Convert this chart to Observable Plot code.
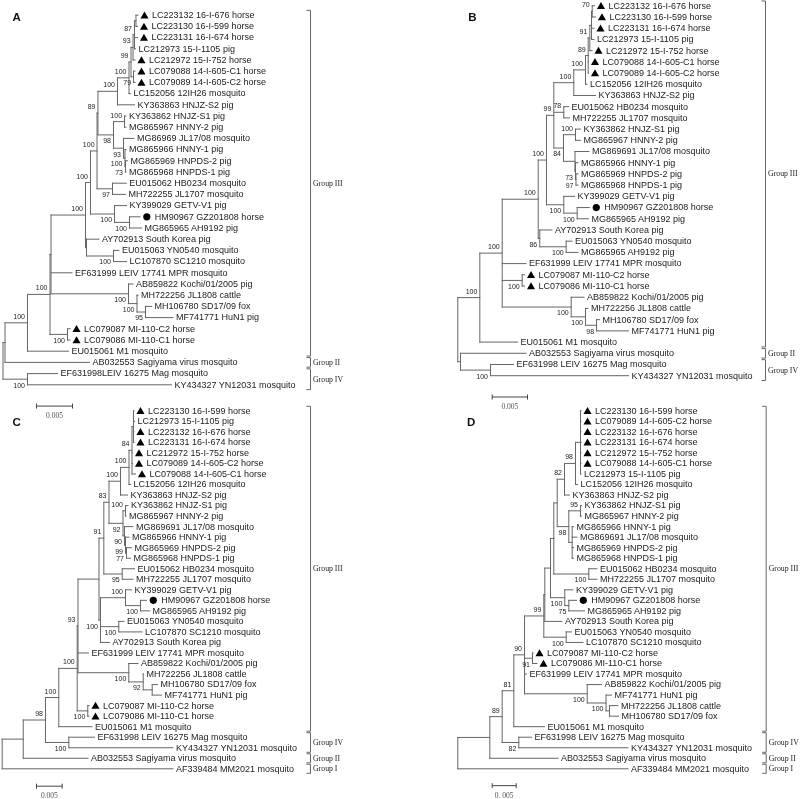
<!DOCTYPE html>
<html><head><meta charset="utf-8">
<script src="https://cdn.jsdelivr.net/npm/d3@7"></script>
<script src="https://cdn.jsdelivr.net/npm/@observablehq/plot@0.6"></script>
<style>
html,body{margin:0;padding:0;background:#fff;}
#fig{position:relative;width:800px;height:799px;overflow:hidden;background:#fff;filter:grayscale(1);}
</style></head><body><div id="fig"></div>
<script>
// ---------- DATA ----------
// Tree topology: leaf numbers refer to the leaf arrays; after ":" = distance from root
// (units of 0.001 substitutions/site); digits after ")" = bootstrap support.
const leavesA = ["LC223132 16-I-676 horse","LC223130 16-I-599 horse","LC223131 16-I-674 horse","LC212973 15-I-1105 pig","LC212972 15-I-752 horse","LC079088 14-I-605-C1 horse","LC079089 14-I-605-C2 horse","LC152056 12IH26 mosquito","KY363863 HNJZ-S2 pig","KY363862 HNJZ-S1 pig","MG865967 HNNY-2 pig","MG86969 JL17/08 mosquito","MG865966 HNNY-1 pig","MG865969 HNPDS-2 pig","MG865968 HNPDS-1 pig","EU015062 HB0234 mosquito","MH722255 JL1707 mosquito","KY399029 GETV-V1 pig","HM90967 GZ201808 horse","MG865965 AH9192 pig","AY702913 South Korea pig","EU015063 YN0540 mosquito","LC107870 SC1210 mosquito","EF631999 LEIV 17741 MPR mosquito","AB859822 Kochi/01/2005 pig","MH722256 JL1808 cattle","MH106780 SD17/09 fox","MF741771 HuN1 pig","LC079087 MI-110-C2 horse","LC079086 MI-110-C1 horse","EU015061 M1 mosquito","AB032553 Sagiyama virus mosquito","EF631998LEIV 16275 Mag mosquito","KY434327 YN12031 mosquito"];
const leavesB = ["LC223132 16-I-676 horse","LC223130 16-I-599 horse","LC223131 16-I-674 horse","LC212973 15-I-1105 pig","LC212972 15-I-752 horse","LC079088 14-I-605-C1 horse","LC079089 14-I-605-C2 horse","LC152056 12IH26 mosquito","KY363863 HNJZ-S2 pig","EU015062 HB0234 mosquito","MH722255 JL1707 mosquito","KY363862 HNJZ-S1 pig","MG865967 HNNY-2 pig","MG869691 JL17/08 mosquito","MG865966 HNNY-1 pig","MG865969 HNPDS-2 pig","MG865968 HNPDS-1 pig","KY399029 GETV-V1 pig","HM90967 GZ201808 horse","MG865965 AH9192 pig","AY702913 South Korea pig","EU015063 YN0540 mosquito","MG865965 AH9192 pig","EF631999 LEIV 17741 MPR mosquito","LC079087 MI-110-C2 horse","LC079086 MI-110-C1 horse","AB859822 Kochi/01/2005 pig","MH722256 JL1808 cattle","MH106780 SD17/09 fox","MF741771 HuN1 pig","EU015061 M1 mosquito","AB032553 Sagiyama virus mosquito","EF631998 LEIV 16275 Mag mosquito","KY434327 YN12031 mosquito"];
const leavesC = ["LC223130 16-I-599 horse","LC212973 15-I-1105 pig","LC223132 16-I-676 horse","LC223131 16-I-674 horse","LC212972 15-I-752 horse","LC079089 14-I-605-C2 horse","LC079088 14-I-605-C1 horse","LC152056 12IH26 mosquito","KY363863 HNJZ-S2 pig","KY363862 HNJZ-S1 pig","MG865967 HNNY-2 pig","MG869691 JL17/08 mosquito","MG865966 HNNY-1 pig","MG865969 HNPDS-2 pig","MG865968 HNPDS-1 pig","EU015062 HB0234 mosquito","MH722255 JL1707 mosquito","KY399029 GETV-V1 pig","HM90967 GZ201808 horse","MG865965 AH9192 pig","EU015063 YN0540 mosquito","LC107870 SC1210 mosquito","AY702913 South Korea pig","EF631999 LEIV 17741 MPR mosquito","AB859822 Kochi/01/2005 pig","MH722256 JL1808 cattle","MH106780 SD17/09 fox","MF741771 HuN1 pig","LC079087 MI-110-C2 horse","LC079086 MI-110-C1 horse","EU015061 M1 mosquito","EF631998 LEIV 16275 Mag mosquito","KY434327 YN12031 mosquito","AB032553 Sagiyama virus mosquito","AF339484 MM2021 mosquito"];
const leavesD = ["LC223130 16-I-599 horse","LC079089 14-I-605-C2 horse","LC223132 16-I-676 horse","LC223131 16-I-674 horse","LC212972 15-I-752 horse","LC079088 14-I-605-C1 horse","LC212973 15-I-1105 pig","LC152056 12IH26 mosquito","KY363863 HNJZ-S2 pig","KY363862 HNJZ-S1 pig","MG865967 HNNY-2 pig","MG865966 HNNY-1 pig","MG869691 JL17/08 mosquito","MG865969 HNPDS-2 pig","MG865968 HNPDS-1 pig","EU015062 HB0234 mosquito","MH722255 JL1707 mosquito","KY399029 GETV-V1 pig","HM90967 GZ201808 horse","MG865965 AH9192 pig","AY702913 South Korea pig","EU015063 YN0540 mosquito","LC107870 SC1210 mosquito","LC079087 MI-110-C2 horse","LC079086 MI-110-C1 horse","EF631999 LEIV 17741 MPR mosquito","AB859822 Kochi/01/2005 pig","MF741771 HuN1 pig","MH722256 JL1808 cattle","MH106780 SD17/09 fox","EU015061 M1 mosquito","EF631998 LEIV 16275 Mag mosquito","KY434327 YN12031 mosquito","AB032553 Sagiyama virus mosquito","AF339484 MM2021 mosquito"];

const treeA = `
(
 (
  (
   (
    (
     (
      (
       (
        (
         (
          (
           (
            (
             (
              (1:18.75,2:18.68):18.47,
              3:18.68,4:18.40
             )87:18.26,
             5:18.33
            )93:18.06,
            (6:18.33,7:18.33)79:18.13
           )99:17.78,
           8:17.71
          )100:17.50,
          9:18.26
         )100:15.90,
         (
          (10:17.08,11:17.08)100:16.88,
          (12:18.19,(13:17.08,(14:17.29,15:17.08)73:17.01)100:16.94)93:16.74
         )98:15.35
        )89:13.19,
        (16:17.13,17:17.01)97:15.21
       )100:13.06,
       (18:17.15,(19:19.03,20:19.24)100:17.57)100:15.49
      )100:12.15,
      (21:13.33,(22:16.11,23:17.15)100:15.35):11.60
     )100:11.46,
     24:9.58,
     (25:18.06,(26:18.75,(27:20.63,28:23.61)95:19.79)100:18.61)100:17.43
    ):6.67,
    (29:9.31,30:9.31)100:8.96
   )100:6.53,
   31:9.10
  )100:3.40,
  32:12.01
 ):0.28,
 (33:7.57,34:23.40)100:3.40
):0`;

const treeB = `
(
 (
  (
   (
    (
     (
      (
       (
        (
         (
          ((1:19.36,2:19.50)70:19.04,3:19.29,4:19.29):18.94,
          5:19.01
         )91:18.70,
         6:18.51,7:18.51
        )89:18.47,
        8:18.30
       )100:18.09,
       9:19.50
      )100:16.43,
      (10:15.68,11:15.82)78:15.01,
      ((12:17.38,13:17.38)100:16.67,(14:18.58,(15:17.03,(16:17.03,17:17.03)97:16.74)73:16.67):16.60)84:14.97
     )99:13.60,
     (18:16.53,(19:18.65,20:18.51)100:16.91)100:15.01
    )100:12.56,
    (21:13.34,(22:16.18,23:17.03)100:15.35)86:11.61
   )100:11.39,
   24:9.66,
   (25:9.45,26:9.45)100:9.12,
   (27:17.88,(28:18.44,(29:20.07,30:24.18)98:19.65)100:18.09)100:16.06
  )100:6.29,
  31:8.46
 )100:3.12,
 (32:9.66,(33:7.89,34:24.18)100:4.63):0.38
):0`;

const treeC = `
(
 (
  (
   (
    (
     (
      (
       (
        (
         (
          (
           (
            (1:25.64,2:25.74,3:25.64,4:25.64):25.54,
            5:25.35,6:25.35,7:25.93
           )84:25.25,
           8:24.96
          )100:24.67,
          9:24.38
         )100:23.02,
         (
          (10:24.47,11:24.09)100:23.99,
          (12:25.45,(13:24.67,(14:25.16,15:24.96)77:24.18)99:23.99)90:23.79
         )92:23.50
        )83:20.78,
        (16:25.74,17:25.45)95:23.35
       )91:19.77,
       (
        (18:25.16,(19:28.07,20:28.66)100:26.91)100:23.99,
        (21:23.70,22:27.20)100:22.68,
        23:20.88
       )100:19.12
      ):18.83,
      24:16.79,
      (25:26.42,(26:27.49,(27:30.21,28:30.99):29.18)92:27.43)100:24.63
     )93:14.75,
     (29:16.89,30:16.89)100:16.65
    )100:14.59,
    31:17.47
   )100:11.01,
   (32:17.96,33:33.23)100:12.96
  )98:8.42,
  34:16.69
 ):4.09,
 35:33.23
):0`;

const treeD = `
(
 (
  (
   (
    (
     (
      (
       (
        (
         (
          (
           (
            (1:25.67,2:25.67,3:25.67,4:25.67,5:25.67,6:25.67,7:25.67):25.56,
            8:24.94
           )98:24.52,
           9:23.27
          )82:22.23,
          ((10:25.77,11:25.77)95:25.56,(12:24.10,13:24.83,14:24.10,15:24.10):23.83)98:23.13
         ):20.71,
         (16:29.00,17:29.00)100:27.29
        ):20.00,
        (18:24.00,(19:24.73,20:26.40)75:23.13)100:22.29
       ):19.31,
       21:21.71
      ):18.13,
      (22:23.69,23:26.08)100:22.58
     )99:17.92,
     (24:15.67,25:16.50)91:15.56,
     26:14.31,
     (27:29.94,(28:32.02,(29:33.38,30:33.48):31.60)100:30.88)100:26.96
    )90:13.90,
    31:18.06
   )81:11.67,
   (32:15.35,33:35.46)82:12.71
  )89:9.25,
  34:20.88
 ):6.67,
 35:35.46
):0`;

// groups: [label, first leaf, last leaf]
const groupsAB = [["Group III",1,31],["Group II",32,32],["Group IV",33,34]];
const groupsCD = [["Group III",1,31],["Group IV",32,33],["Group II",34,34],["Group I",35,35]];
const circleIds = ["HM90967"];   // filled circle marker; other horse strains get a triangle
const scaleBarLength = 5;        // 0.005 substitutions/site

// ---------- LAYOUT ----------
const panels = [
  {letter:"A", tree:treeA, leaves:leavesA, groups:groupsAB, scaleLabel:"0.005",
   left:0, top:0, height:420, rootPx:2.5, ppu:7.2, y1:14.7, yn:384.3,
   bracketPx:310, barPx:36, barRow:1.9, barLabelRow:2.75, letterX:12, letterY:17.2},
  {letter:"B", tree:treeB, leaves:leavesB, groups:groupsAB, scaleLabel:"0.005",
   left:400, top:0, height:415, rootPx:57.3, ppu:7.06, y1:5.3, yn:375.2,
   bracketPx:365, barPx:91.7, barRow:1.9, barLabelRow:2.8, letterX:67.7, letterY:17.2},
  {letter:"C", tree:treeC, leaves:leavesC, groups:groupsCD, scaleLabel:"0.005",
   left:0, top:400, height:399, rootPx:1.7, ppu:5.14, y1:10.3, yn:368.3,
   bracketPx:310, barPx:36, barRow:1.65, barLabelRow:2.55, letterX:12, letterY:21.5},
  {letter:"D", tree:treeD, leaves:leavesD, groups:groupsCD, scaleLabel:"0. 005",
   left:400, top:400, height:399, rootPx:57.3, ppu:4.8, y1:10.3, yn:368.3,
   bracketPx:365.7, barPx:91.7, barRow:1.6, barLabelRow:2.5, letterX:66.5, letterY:21.5}
];

function parseTree(str) {
  const s = str.replace(/\s+/g, "");
  let i = 0;
  function node() {
    const n = {children: [], support: ""};
    if (s[i] === "(") {
      i++;
      n.children.push(node());
      while (s[i] === ",") { i++; n.children.push(node()); }
      i++; // ")"
      while (i < s.length && /[0-9]/.test(s[i])) n.support += s[i++];
    } else {
      let lab = "";
      while (/[0-9]/.test(s[i])) lab += s[i++];
      n.leaf = +lab;
    }
    if (s[i] === ":") {
      i++;
      let num = "";
      while (i < s.length && /[0-9.]/.test(s[i])) num += s[i++];
      n.depth = +num;
    }
    return n;
  }
  return node();
}

function layoutTree(root) {
  const nodes = [];
  (function walk(n, parent) {
    n.parent = parent;
    nodes.push(n);
    n.children.forEach(c => walk(c, n));
    n.y = n.children.length ? (n.children[0].y + n.children[n.children.length - 1].y) / 2 : n.leaf;
  })(root, null);
  return nodes;
}

const sans = "Liberation Sans, Arial, Helvetica, sans-serif";
const serif = "Liberation Serif, Times New Roman, serif";
const lineColor = "#666";
const textColor = "#222";

function markerOf(name) {
  if (circleIds.some(id => name.startsWith(id))) return "circle";
  if (name.endsWith("horse")) return "triangle";
  return null;
}

function buildPanel(p) {
  const nodes = layoutTree(parseTree(p.tree));
  const n = p.leaves.length;
  const spacing = (p.yn - p.y1) / (n - 1);
  const toX = px => (px - p.rootPx) / p.ppu;
  const leafNodes = nodes.filter(d => !d.children.length);
  const name = d => p.leaves[d.leaf - 1];
  const internal = nodes.filter(d => d.children.length);
  const supported = internal.filter(d => d.parent && d.support);
  const bx = toX(p.bracketPx), tick = 4 / p.ppu, ext = 0.43;
  const brackets = p.groups.map(([label, a, b]) => ({label, top: a - ext, bottom: b + ext, mid: (a + b) / 2}));
  const barStart = toX(p.barPx);
  const barY = n + p.barRow;
  const tickH = 2.5 / spacing;

  return Plot.plot({
    width: 400, height: p.height, margin: 0,
    style: {position: "absolute", left: p.left + "px", top: p.top + "px", background: "transparent", overflow: "visible"},
    x: {axis: null, domain: [0, 10], range: [p.rootPx, p.rootPx + 10 * p.ppu]},
    y: {axis: null, domain: [1, n], range: [p.y1, p.yn]},
    marks: [
      // branches
      Plot.link(nodes.filter(d => d.parent), {x1: d => d.parent.depth, x2: "depth", y1: "y", y2: "y",
        stroke: lineColor, strokeWidth: 1, strokeLinecap: "square"}),
      Plot.link(internal, {x1: "depth", x2: "depth", y1: d => d.children[0].y, y2: d => d.children[d.children.length - 1].y,
        stroke: lineColor, strokeWidth: 1, strokeLinecap: "square"}),
      // bootstrap values
      Plot.text(supported.filter(d => d.y <= d.parent.y), {x: "depth", y: "y", text: "support", dx: -2.5, dy: -6.2,
        textAnchor: "end", fontSize: 7, fontFamily: sans, fill: textColor}),
      Plot.text(supported.filter(d => d.y > d.parent.y), {x: "depth", y: "y", text: "support", dx: -2.5, dy: 6.2,
        textAnchor: "end", fontSize: 7, fontFamily: sans, fill: textColor}),
      // markers
      Plot.dot(leafNodes.filter(d => markerOf(name(d)) === "triangle"), {x: "depth", y: "y", symbol: "triangle", r: 3,
        fill: "#000", stroke: "none", dx: 6.5, dy: 0.9}),
      Plot.dot(leafNodes.filter(d => markerOf(name(d)) === "circle"), {x: "depth", y: "y", symbol: "circle", r: 3.6,
        fill: "#000", stroke: "none", dx: 6.8}),
      // leaf labels
      Plot.text(leafNodes.filter(d => !markerOf(name(d))), {x: "depth", y: "y", text: name, dx: 3,
        textAnchor: "start", fontSize: 9, fontFamily: sans, fill: textColor}),
      Plot.text(leafNodes.filter(d => markerOf(name(d)) === "triangle"), {x: "depth", y: "y", text: name, dx: 14,
        textAnchor: "start", fontSize: 9, fontFamily: sans, fill: textColor}),
      Plot.text(leafNodes.filter(d => markerOf(name(d)) === "circle"), {x: "depth", y: "y", text: name, dx: 14.8,
        textAnchor: "start", fontSize: 9, fontFamily: sans, fill: textColor}),
      // group brackets
      Plot.link(brackets, {x1: bx, x2: bx, y1: "top", y2: "bottom", stroke: lineColor, strokeWidth: 1}),
      Plot.link(brackets, {x1: bx - tick, x2: bx, y1: "top", y2: "top", stroke: lineColor, strokeWidth: 1}),
      Plot.link(brackets, {x1: bx - tick, x2: bx, y1: "bottom", y2: "bottom", stroke: lineColor, strokeWidth: 1}),
      Plot.text(brackets, {x: bx, y: "mid", text: "label", dx: 2.5, textAnchor: "start",
        fontSize: 7.8, fontFamily: serif, fill: textColor}),
      // scale bar
      Plot.link([{a: barStart, b: barStart + scaleBarLength}], {x1: "a", x2: "b", y1: barY, y2: barY, stroke: "#444", strokeWidth: 1}),
      Plot.link([barStart, barStart + scaleBarLength], {x1: d => d, x2: d => d, y1: barY - tickH, y2: barY + tickH, stroke: "#444", strokeWidth: 1}),
      Plot.text([p.scaleLabel], {x: barStart + scaleBarLength / 2, y: n + p.barLabelRow, text: d => d,
        fontSize: 7.5, fontFamily: serif, fill: "#555"}),
      // panel letter
      Plot.text([p.letter], {text: d => d, frameAnchor: "top-left", dx: p.letterX, dy: p.letterY,
        textAnchor: "start", lineAnchor: "middle", fontSize: 11.5, fontWeight: "bold", fontFamily: sans, fill: "#111"})
    ]
  });
}

const fig = document.getElementById("fig");
for (const p of panels) fig.appendChild(buildPanel(p));
</script></body></html>
